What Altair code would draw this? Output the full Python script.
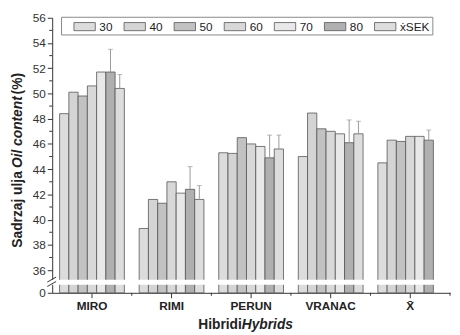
import altair as alt
import pandas as pd

hybrids = ["MIRO", "RIMI", "PERUN", "VRANAC", "X̄"]
series = ["30", "40", "50", "60", "70", "80", "ẋSEK"]
vals_miro = [48.4, 50.1, 49.8, 50.6, 51.7, 51.7, 50.4]
vals_rimi = [39.3, 41.6, 41.3, 43.0, 42.1, 42.4, 41.6]
vals_perun = [45.3, 45.25, 46.5, 46.0, 45.8, 44.9, 45.6]
vals_vranac = [45.0, 48.45, 47.2, 47.0, 46.8, 46.1, 46.8]
vals_mean = [44.5, 46.3, 46.2, 46.6, 46.6, 46.3, None]
err_80 = [1.8, 1.8, 1.8, 1.8, 0.8]
err_sek = [1.1, 1.1, 1.1, 1.0, None]
y_labels = [34.2, 36, 38, 40, 42, 44, 46, 48, 50, 52, 54, 56]
y_minor = [37, 39, 41, 43, 45, 47, 49, 51, 53, 55]
greys = ["#dcdcdc", "#d4d4d4", "#c2c2c2", "#d8d8d8", "#e8e8e8", "#b0b0b0", "#dddddd"]

all_vals = [vals_miro, vals_rimi, vals_perun, vals_vranac, vals_mean]
rows = []
for h, vs in zip(hybrids, all_vals):
    for s, v in zip(series, vs):
        if v is not None:
            rows.append({"hybrid": h, "series": s, "value": v})
bars_df = pd.DataFrame(rows)

erows = []
for i, h in enumerate(hybrids):
    for s, e in (("80", err_80[i]), ("ẋSEK", err_sek[i])):
        if e is not None:
            v = all_vals[i][series.index(s)]
            erows.append({"hybrid": h, "series": s, "value": v, "top": v + e})
err_df = pd.DataFrame(erows)

FONT = "Liberation Sans"
BASE = 34.2
ydom = [BASE, 56]
yscale = alt.Scale(domain=ydom, zero=False, nice=False)
xscale = alt.Scale(domain=hybrids, paddingInner=0, paddingOuter=0)
xoscale = alt.Scale(domain=series, paddingInner=0, paddingOuter=0.8)

xaxis = alt.Axis(title=None, labelAngle=0, labelFont=FONT, labelFontSize=12,
                 labelFontWeight="bold", labelColor="#222", tickSize=5,
                 tickColor="#333", domainColor="#333", labelPadding=3)
yaxis = alt.Axis(title=None, values=y_labels, tickSize=5, labelFont=FONT,
                 labelFontSize=12, labelColor="#333", tickColor="#333",
                 domainColor="#333", grid=False, labelPadding=2,
                 labelExpr="datum.value < 35 ? '0' : format(datum.value, 'd')")

def X(field, **kw):
    return alt.X(field, scale=xscale, sort=hybrids, axis=xaxis, **kw)

def Y(field):
    return alt.Y(field, scale=yscale, axis=yaxis)

XO = alt.XOffset("series:N", scale=xoscale, sort=series)

bars = alt.Chart(bars_df).mark_bar(stroke="#555555", strokeWidth=0.8).encode(
    x=X("hybrid:N"),
    xOffset=XO,
    y=Y("value:Q"),
    y2=alt.datum(BASE),
    fill=alt.Fill("series:N", scale=alt.Scale(domain=series, range=greys),
                  legend=alt.Legend(orient="none", legendX=9, legendY=-1, direction="horizontal",
                                    columns=7, title=None, symbolType="M-1.45,-0.55H1.45V0.55H-1.45Z",
                                    symbolSize=225, symbolStrokeColor="#555", symbolStrokeWidth=0.8,
                                    labelFont=FONT, labelFontSize=12, labelColor="#222",
                                    labelOffset=7, columnPadding=0, padding=2,
                                    symbolOffset=14,
                                    strokeColor="#888", fillColor="white")),
)

err_rule = alt.Chart(err_df).mark_rule(color="#999999", strokeWidth=1).encode(
    x=X("hybrid:N"), xOffset=XO, y=Y("value:Q"), y2="top:Q",
)
err_cap = alt.Chart(err_df).mark_tick(color="#999999", thickness=1, size=5).encode(
    x=X("hybrid:N"), xOffset=XO, y=Y("top:Q"),
)

minor_df = pd.DataFrame({"v": y_minor})
minor_y = alt.Chart(minor_df).mark_rule(color="#333", strokeWidth=1).encode(
    y=Y("v:Q"), x=alt.value(-3), x2=alt.value(0),
)

xminor_df = pd.DataFrame({"hybrid": hybrids})
minor_x = alt.Chart(xminor_df).mark_rule(color="#333", strokeWidth=1).encode(
    x=X("hybrid:N", bandPosition=1), y=alt.value(280), y2=alt.value(283),
)

one = pd.DataFrame({"a": [0]})
brk = alt.Chart(one).mark_rect(color="white").encode(
    x=alt.value(-8), x2=alt.value(406),
    y=alt.datum(34.84, scale=yscale, axis=yaxis), y2=alt.datum(35.24),
)
slash1 = alt.Chart(one).mark_rule(color="#333", strokeWidth=1).encode(
    x=alt.value(-5), x2=alt.value(4), y=alt.datum(34.7, scale=yscale, axis=yaxis), y2=alt.datum(35.1),
)
slash2 = alt.Chart(one).mark_rule(color="#333", strokeWidth=1).encode(
    x=alt.value(-5), x2=alt.value(4), y=alt.datum(35.05, scale=yscale, axis=yaxis), y2=alt.datum(35.45),
)

def txt(t, x, y, angle=0, align="left", italic=False, size=14):
    return alt.Chart(pd.DataFrame({"t": [t]})).mark_text(
        font=FONT, fontSize=size, fontWeight="bold", fontStyle="italic" if italic else "normal",
        angle=angle, align=align, baseline="alphabetic", color="#222",
    ).encode(text="t:N", x=alt.value(x), y=alt.value(y))

titles = [
    txt("Hibridi", 193, 317, align="right"),
    txt("Hybrids", 193, 317, italic=True),
    txt("Sadrzaj ulja", -31, 234, angle=270),
    txt("Oil content", -31, 153, angle=270, italic=True),
    txt("(%)", -31, 78, angle=270),
]

chart = alt.layer(bars, err_rule, err_cap, minor_y, minor_x, brk, slash1, slash2, *titles).properties(
    width=405, height=280,
    autosize=alt.AutoSizeParams(type="none"),
    padding={"left": 45, "top": 7, "right": 2, "bottom": 40},
).configure_view(stroke=None).configure_axis(domainWidth=1, tickWidth=1)

chart.save("out.html", embed_options={"renderer": "svg", "actions": False})
